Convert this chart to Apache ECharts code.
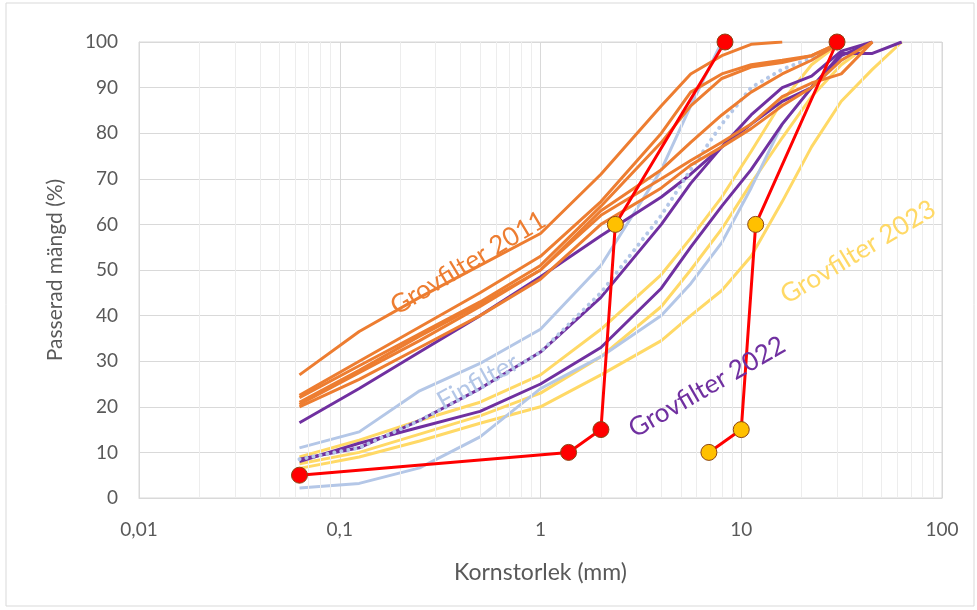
<!DOCTYPE html>
<html><head><meta charset="utf-8">
<script src="https://cdn.jsdelivr.net/npm/echarts@6/dist/echarts.min.js"></script>
<style>html,body{margin:0;padding:0;background:#fff}#c{width:977px;height:610px}</style>
</head><body><div id="c"></div>
<script>
// sieve sizes (mm)
const sizes = [0.063,0.125,0.25,0.5,1,2,4,5.6,8,11.2,16,22.4,31.5,45,63];
// Grovfilter 2011 (orange)
const o1 = [27, 36.5, 44, 51, 58, 71, 86, 93, 97, 99.5, 100];
const o2 = [22.5, 30, 37.5, 45, 53, 65, 80, 89, 93, 95, 96, 97, 100];
const o3 = [22, 29, 36, 43, 51, 64, 78, 86, 92, 94.5, 95.5, 97, 100];
const o4 = [21, 28, 35.5, 42.5, 50, 63, 72, 78, 84, 89, 93, 96, 100];
const o5 = [20.5, 27.5, 34.5, 42, 50, 62, 70, 74, 78, 82, 88, 91, 93, 100];
const o6 = [20, 26, 33, 40, 48, 60, 68, 73, 77, 81, 86, 90, 96, 100];
// Grovfilter 2022 (purple)
const p1 = [16.5, 24, 32, 40, 48.5, 57.5, 66, 71, 77, 82, 87, 90, 97.5, 97.5, 100];
const p2 = [8.5, 11, 17, 24, 32, 44, 60, 69, 77, 84, 90, 92.5, 98, 100];
const p3 = [8, 12, 15.5, 19, 25, 33, 46, 55, 64, 72, 82, 90, 97, 100];
// Finfilter (light blue)
const b1 = [11, 14.5, 23.5, 29.5, 37, 51, 72, 86, 100];
const b2 = [2.2, 3.2, 6.6, 13.4, 24, 31, 40, 47, 56, 68, 82, 90, 96, 100];
const b3 = [8.5, 11, 17, 24, 32, 45, 62, 72, 82, 90, 94, 96.5, 100];
// Grovfilter 2023 (yellow)
const y1 = [9, 12.7, 17, 21, 27, 37, 49, 57, 66, 76, 87, 95, 100];
const y2 = [7.5, 10, 14, 18, 23, 31, 42, 50, 59, 69, 79, 88, 95, 100];
const y3 = [6.5, 9, 12.5, 16.4, 20, 27, 34.5, 40, 45.5, 53, 65, 77, 87, 94, 100];
// limit curves
const limLowX = [0.063, 1.38, 2, 2.36, 8.3];
const limLowY = [5, 10, 15, 60, 100];
const limLowMark = ['r','r','r','g','r'];
const limHighX = [6.9, 10, 11.8, 30];
const limHighY = [10, 15, 60, 100];
const limHighMark = ['g','g','g','r'];
// axis ticks
const xTicks = [0.01, 0.1, 1, 10, 100];
const minorX = [2,3,4,5,6,7,8,9];

const C = {o:'#ED7D31', p:'#7030A0', b:'#B4C7E7', y:'#FFD966', r:'#FF0000', mr:'#FF0000', mg:'#FFC000'};
const FONT = 'Lato, "Open Sans", sans-serif';

function pairs(arr){ return arr.map((v,i)=>[sizes[i], v]); }
function line(arr, color, z, extra){
  return Object.assign({type:'line', data:pairs(arr), showSymbol:false, symbol:'none', silent:true, z:z,
    lineStyle:{color:color, width:3}, animation:false}, extra||{});
}
function limit(xs, ys, marks){
  return {type:'line', z:10, animation:false, silent:true,
    data: xs.map((x,i)=>({value:[x, ys[i]], itemStyle:{color: marks[i]==='r'?C.mr:C.mg, borderColor:'#8B4513', borderWidth:1}})),
    symbol:'circle', symbolSize:16, showSymbol:true,
    lineStyle:{color:C.r, width:3}};
}
const minorLines = [];
for (const d of [0.01,0.1,1,10]) for (const m of minorX) minorLines.push({xAxis: +(d*m).toPrecision(3)});

const series = [
  {type:'line', data:[], z:0, silent:true, markLine:{silent:true, symbol:'none', label:{show:false}, animation:false,
    lineStyle:{color:'#EDEDED', width:1, type:'solid'}, data:minorLines}},
  line(y3,C.y,3), line(y2,C.y,3), line(y1,C.y,3),
  line(b2,C.b,4), line(b1,C.b,4),
  line(p3,C.p,5), line(p2,C.p,5), line(p1,C.p,5),
  line(b3,C.b,6,{lineStyle:{color:C.b, width:4, type:[0.1,7], cap:'round'}}),
  line(o6,C.o,7), line(o5,C.o,7), line(o4,C.o,7), line(o3,C.o,7), line(o2,C.o,7), line(o1,C.o,7),
  limit(limLowX, limLowY, limLowMark),
  limit(limHighX, limHighY, limHighMark)
];

const chart = echarts.init(document.getElementById('c'), null, {renderer:'canvas'});
chart.setOption({
  animation:false,
  backgroundColor:'#fff',
  grid:{left:139, right:35, top:42, bottom:112, show:true, borderColor:'#D9D9D9', borderWidth:1},
  xAxis:{type:'log', logBase:10, min:xTicks[0], max:xTicks[xTicks.length-1],
    name:'Kornstorlek (mm)', nameLocation:'middle', nameGap:63,
    nameTextStyle:{fontFamily:FONT, fontSize:23, color:'#595959'},
    axisLine:{show:true, lineStyle:{color:'#D9D9D9'}}, axisTick:{show:false},
    axisLabel:{fontFamily:FONT, fontSize:19, color:'#595959', margin:22,
      formatter:v=>String(+(+v).toPrecision(3)).replace('.',',')},
    splitLine:{show:true, lineStyle:{color:'#D9D9D9', width:1}}},
  yAxis:{type:'value', min:0, max:100, interval:10,
    name:'Passerad mängd (%)', nameLocation:'middle', nameGap:73, nameRotate:90,
    nameTextStyle:{fontFamily:FONT, fontSize:21, color:'#595959'},
    axisLine:{show:true, lineStyle:{color:'#D9D9D9'}}, axisTick:{show:false},
    axisLabel:{fontFamily:FONT, fontSize:19, color:'#595959', margin:21},
    splitLine:{show:true, lineStyle:{color:'#D9D9D9', width:1}}},
  graphic:[
    {type:'rect', shape:{x:6, y:3, width:968, height:603}, style:{fill:'none', stroke:'#D9D9D9', lineWidth:1}, silent:true, z:-1},
    {type:'text', x:468, y:263, rotation:31*Math.PI/180, style:{text:'Grovfilter 2011', fill:C.o, font:'26px '+FONT, textAlign:'center', textVerticalAlign:'middle'}, z:20},
    {type:'text', x:478, y:382, rotation:29*Math.PI/180, style:{text:'Finfilter', fill:C.b, font:'26px '+FONT, textAlign:'center', textVerticalAlign:'middle'}, z:20},
    {type:'text', x:707, y:387, rotation:30*Math.PI/180, style:{text:'Grovfilter 2022', fill:C.p, font:'26px '+FONT, textAlign:'center', textVerticalAlign:'middle'}, z:20},
    {type:'text', x:858, y:252, rotation:31*Math.PI/180, style:{text:'Grovfilter 2023', fill:C.y, font:'26px '+FONT, textAlign:'center', textVerticalAlign:'middle'}, z:20}
  ],
  series: series
});
</script></body></html>
